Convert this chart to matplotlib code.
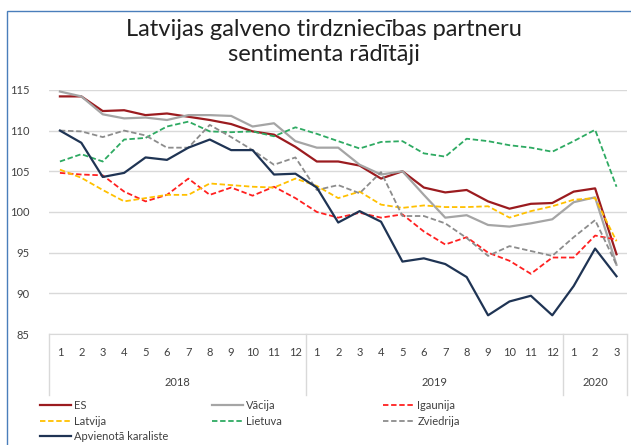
import matplotlib
matplotlib.use("Agg")
import matplotlib.pyplot as plt
from matplotlib.patches import Rectangle
from matplotlib.lines import Line2D
import matplotlib.transforms as mtransforms

plt.rcParams['font.family'] = ['Lato', 'DejaVu Sans']

months = [1, 2, 3, 4, 5, 6, 7, 8, 9, 10, 11, 12,
          1, 2, 3, 4, 5, 6, 7, 8, 9, 10, 11, 12,
          1, 2, 3]
years = ['2018', '2019', '2020']
year_lengths = [12, 12, 3]

es = [114.2, 114.2, 112.4, 112.5, 111.9, 112.1, 111.7, 111.3, 110.8, 109.9, 109.5, 108.0,
      106.2, 106.2, 105.7, 104.1, 105.0, 103.0, 102.4, 102.7, 101.3, 100.4, 101.0, 101.1,
      102.5, 102.9, 94.8]
vacija = [114.8, 114.2, 112.0, 111.5, 111.6, 111.3, 111.9, 111.9, 111.8, 110.5, 110.9, 108.7,
          107.9, 107.9, 105.8, 104.6, 105.0, 102.1, 99.3, 99.6, 98.4, 98.2, 98.6, 99.1,
          101.2, 101.8, 93.5]
igaunija = [104.8, 104.6, 104.5, 102.5, 101.3, 102.1, 104.1, 102.1, 103.0, 102.0, 103.1, 101.7,
            100.0, 99.3, 99.9, 99.3, 99.7, 97.6, 96.0, 96.9, 95.0, 94.0, 92.4, 94.4,
            94.4, 97.1, 96.6]
latvija = [105.2, 104.2, 102.7, 101.3, 101.7, 102.1, 102.1, 103.5, 103.3, 103.1, 103.0, 104.1,
           103.2, 101.7, 102.5, 100.9, 100.5, 100.8, 100.6, 100.6, 100.7, 99.3, 100.1, 100.7,
           101.5, 101.7, 96.4]
lietuva = [106.2, 107.1, 106.2, 108.9, 109.1, 110.5, 111.1, 109.9, 109.8, 109.9, 109.3, 110.4,
           109.6, 108.7, 107.8, 108.6, 108.7, 107.2, 106.8, 109.0, 108.7, 108.2, 107.9, 107.4,
           108.7, 110.1, 103.1]
zviedrija = [110.0, 109.9, 109.2, 110.0, 109.4, 107.9, 107.9, 110.7, 109.2, 107.6, 105.8, 106.7,
             102.7, 103.3, 102.3, 104.9, 99.5, 99.5, 98.6, 96.8, 94.6, 95.8, 95.2, 94.6,
             96.9, 99.0, 93.5]
uk = [110.0, 108.5, 104.3, 104.8, 106.7, 106.4, 107.9, 108.9, 107.6, 107.6, 104.6, 104.7,
      103.0, 98.7, 100.1, 98.8, 93.9, 94.3, 93.6, 92.0, 87.3, 89.0, 89.7, 87.3,
      90.9, 95.5, 92.1]

x = list(range(len(months)))

fig = plt.figure(figsize=(6.31, 4.45), dpi=100)
fig.patches.append(Rectangle((7 / 631, -0.01), 1.0, (445 - 11) / 445 + 0.01,
                             transform=fig.transFigure, fill=False,
                             edgecolor='#4A7EBB', linewidth=1.0))

ax = fig.add_axes([0.078, 0.2494, 0.916, 0.5486])

dash = (0, (3, 1.5))
ax.plot(x, es, color='#9B1B1F', lw=1.6, label='ES')
ax.plot(x, vacija, color='#A5A5A5', lw=1.6, label='Vācija')
ax.plot(x, igaunija, color='#FF2020', lw=1.3, ls=dash, label='Igaunija')
ax.plot(x, latvija, color='#FFC000', lw=1.3, ls=dash, label='Latvija')
ax.plot(x, lietuva, color='#2EAA62', lw=1.3, ls=dash, label='Lietuva')
ax.plot(x, zviedrija, color='#8C8C8C', lw=1.3, ls=dash, label='Zviedrija')
ax.plot(x, uk, color='#1F3454', lw=1.6, label='Apvienotā karaliste')

ax.set_xlim(-0.5, len(months) - 0.5)
ax.set_ylim(85, 115)
ax.set_yticks([85, 90, 95, 100, 105, 110, 115])
ax.yaxis.grid(True, color='#D9D9D9', lw=1.0)
ax.set_axisbelow(True)
for s in ['top', 'right', 'left']:
    ax.spines[s].set_visible(False)
ax.spines['bottom'].set_color('#D9D9D9')
ax.set_xticks(x)
ax.set_xticklabels([str(m) for m in months])
ax.tick_params(axis='x', length=0, pad=9, labelsize=8, colors='#404040')
ax.tick_params(axis='y', length=0, pad=14, labelsize=8, colors='#404040')

# category group separators and year labels below the axis
trans = mtransforms.blended_transform_factory(ax.transData, ax.transAxes)
bounds = [-0.5]
for n in year_lengths:
    bounds.append(bounds[-1] + n)
for b in bounds:
    ax.add_line(Line2D([b, b], [0, -0.25], transform=trans, color='#D9D9D9',
                       lw=1.0, clip_on=False))
for i, yr in enumerate(years):
    ax.text((bounds[i] + bounds[i + 1]) / 2, -0.197, yr, transform=trans,
            ha='center', va='center', fontsize=8, color='#404040')

fig.text(0.513, 0.905, 'Latvijas galveno tirdzniecības partneru\nsentimenta rādītāji',
         ha='center', va='center', fontsize=17, color='#202020', linespacing=1.25)

# legend in three columns, each placed on its own
h, l = ax.get_legend_handles_labels()
columns = [([0, 3, 6], 0.063), ([1, 4], 0.336), ([2, 5], 0.607)]
for idx, xpos in columns:
    leg = fig.legend([h[i] for i in idx], [l[i] for i in idx],
                     loc='upper left', bbox_to_anchor=(xpos, 0.101), frameon=False,
                     fontsize=8, handlelength=2.8, handletextpad=0.3,
                     labelspacing=0.42, borderaxespad=0, borderpad=0,
                     labelcolor='#404040')

fig.savefig('out.png', dpi=100)
